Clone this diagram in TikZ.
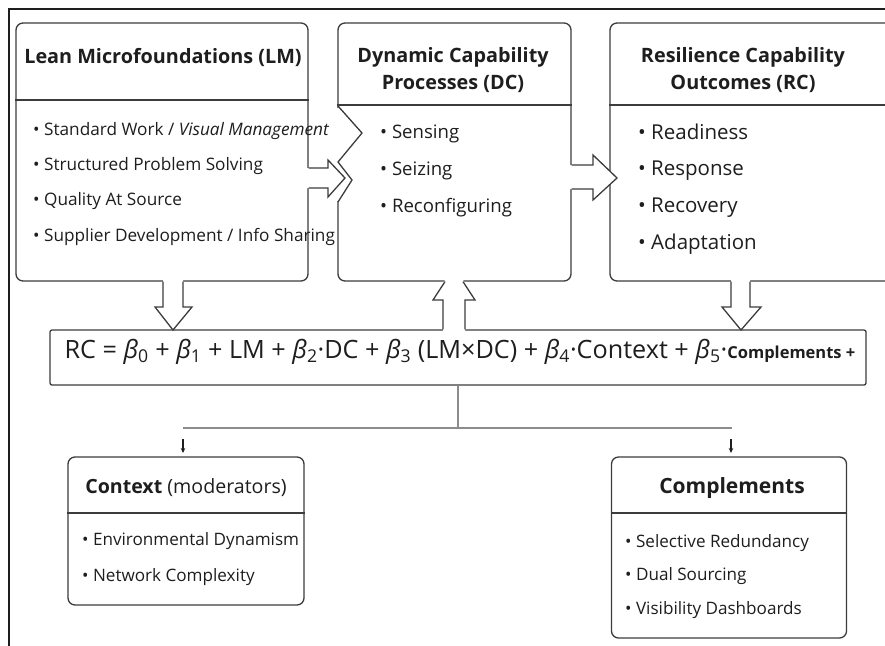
\documentclass[tikz,border=0pt]{standalone}
\usepackage{fontspec}
\setmainfont{Open Sans}
\usetikzlibrary{calc,arrows.meta}
\definecolor{ink}{HTML}{1E1E1E}
\definecolor{edge}{HTML}{3C3C3C}
\definecolor{wire}{HTML}{8C8C8C}
\begin{document}
\begin{tikzpicture}[x=1pt,y=-1pt,
  panel/.style={draw=edge, line width=1.3pt, rounded corners=7pt, fill=white, inner sep=0pt},
  divider/.style={draw=edge, line width=1.2pt},
  heading/.style={text=ink, font=\fontsize{19.8}{26.5}\selectfont\bfseries, align=center, inner sep=0pt},
  subhead/.style={text=ink, font=\fontsize{19.6}{22}\selectfont\bfseries, inner sep=0pt},
  itemL/.style={text=ink, font=\fontsize{17.2}{20}\selectfont, anchor=mid west, inner sep=0pt},
  itemM/.style={text=ink, font=\fontsize{18.6}{22}\selectfont, anchor=mid west, inner sep=0pt},
  itemR/.style={text=ink, font=\fontsize{20.5}{24}\selectfont, anchor=mid west, inner sep=0pt},
  itemS/.style={text=ink, font=\fontsize{17.1}{20}\selectfont, anchor=mid west, inner sep=0pt},
  blockarrow/.style={draw=edge, line width=1.3pt, line join=miter},
  wireline/.style={draw=wire, line width=1.3pt},
  tick/.style={draw=ink, line width=1.3pt, -{Stealth[length=5pt,width=4.5pt]}},
]
\useasboundingbox (0,0) rectangle (885,645);
\clip (0,0) rectangle (885,645);

% outer frame (left and top edges)
\draw[line width=1.6pt, draw=ink] (9,650) -- (9,9) -- (890,9);

% ---------- three upper panels ----------
\node[panel, minimum width=292pt, minimum height=258pt] (lm) at (162,152) {};
\draw[divider] (lm.west |- 0,100) -- (lm.east |- 0,100);
\node[heading] (lmT) at (163,57) {Lean Microfoundations (LM)};
\node[itemL] (lm1) at (33,133) {• Standard Work / \textit{Visual Management}};
\node[itemL] (lm2) at (33,168) {• Structured Problem Solving};
\node[itemL] (lm3) at (33,203) {• Quality At Source};
\node[itemL] (lm4) at (33,239) {• Supplier Development / Info Sharing};

\node[panel, minimum width=233pt, minimum height=258pt] (dc) at (454.5,152) {};
\draw[divider] (dc.west |- 0,105) -- (dc.east |- 0,105);
% notched entry on the left edge of the DC panel
\fill[white] (336,108) rectangle (340.5,201);
\draw[blockarrow] (338,106) -- (362,133) -- (338,162) -- (352,180) -- (338,202);
\node[heading] (dcT) at (453,70) {Dynamic Capability\\Processes (DC)};
\node[itemM] (dc1) at (380,136) {• Sensing};
\node[itemM] (dc2) at (380,173) {• Seizing};
\node[itemM] (dc3) at (380,210) {• Reconfiguring};

\node[panel, minimum width=300pt, minimum height=258pt] (rc) at (760,152) {};
\draw[divider] (rc.west |- 0,105) -- (rc.east |- 0,105);
\node[heading] (rcT) at (743,70) {Resilience Capability\\Outcomes (RC)};
\node[itemR] (rc1) at (638,137) {• Readiness};
\node[itemR] (rc2) at (638,173) {• Response};
\node[itemR] (rc3) at (638,210) {• Recovery};
\node[itemR] (rc4) at (638,247) {• Adaptation};

% ---------- equation panel ----------
\node[draw=edge, line width=1.3pt, fill=white, minimum width=816pt, minimum height=55pt,
      rounded corners=2pt, inner sep=0pt] (eq) at (458,357.5) {};
\node[text=ink, font=\fontsize{25.2}{28}\selectfont, anchor=mid, inner sep=0pt] (eqT) at (460,356)
  {RC = \textit{β}\textsubscript{0} + \textit{β}\textsubscript{1} + LM + \textit{β}\textsubscript{2}·DC
   + \textit{β}\textsubscript{3} (LM×DC) + \textit{β}\textsubscript{4}·Context
   + \textit{β}\textsubscript{5}·{\fontsize{16.5}{18}\selectfont\bfseries Complements +}};

% ---------- block arrows ----------
% LM -> DC
\fill[white] (307,168) -- (328,168) -- (328,160) -- (345,178) -- (328,197) -- (328,188) -- (307,188) -- cycle;
\draw[blockarrow] (lm.east |- 0,168) -- (328,168) -- (328,160) -- (345,178) -- (328,197) -- (328,188) -- (lm.east |- 0,188);
% DC -> RC
\fill[white] (568,165) -- (593,165) -- (593,155) -- (617,178) -- (593,200) -- (593,189) -- (568,189) -- cycle;
\draw[blockarrow] (dc.east |- 0,165) -- (593,165) -- (593,155) -- (617,178) -- (593,200) -- (593,189) -- (dc.east |- 0,189);
% LM -> equation
\fill[white] (163,278) -- (163,307) -- (155,307) -- (173,330) -- (192,307) -- (183,307) -- (183,278) -- cycle;
\draw[blockarrow] (lm.south -| 163,0) -- (163,307) -- (155,307) -- (173,330) -- (192,307) -- (183,307) -- (lm.south -| 183,0);
% RC -> equation
\fill[white] (731,278) -- (731,307) -- (722,307) -- (741,330) -- (761,307) -- (750,307) -- (750,278) -- cycle;
\draw[blockarrow] (rc.south -| 731,0) -- (731,307) -- (722,307) -- (741,330) -- (761,307) -- (750,307) -- (rc.south -| 750,0);
% equation -> DC (tip hidden inside the DC panel)
\fill[white] (443,332) -- (443,300) -- (433,300) -- (445,280) -- (463,280) -- (475,300) -- (465,300) -- (465,332) -- cycle;
\draw[blockarrow] (eq.north -| 443,0) -- (443,300) -- (433,300) -- (dc.south -| 445,0);
\draw[blockarrow] (eq.north -| 465,0) -- (465,300) -- (475,300) -- (dc.south -| 463,0);

% ---------- lower panels ----------
\node[panel, minimum width=236pt, minimum height=148pt] (ctx) at (186,531) {};
\draw[divider] (ctx.west |- 0,513) -- (ctx.east |- 0,513);
\node[subhead] (ctxT) at (186,488) {Context \mdseries(moderators)};
\node[itemS] (ctx1) at (82,543) {• Environmental Dynamism};
\node[itemS] (ctx2) at (82,579) {• Network Complexity};

\node[panel, minimum width=235pt, minimum height=181pt] (cmp) at (729,547.5) {};
\draw[divider] (cmp.west |- 0,513) -- (cmp.east |- 0,513);
\node[subhead, font=\fontsize{21}{24}\selectfont\bfseries] (cmpT) at (732,488) {Complements};
\node[itemS] (cmp1) at (625,545) {• Selective Redundancy};
\node[itemS] (cmp2) at (625,578) {• Dual Sourcing};
\node[itemS] (cmp3) at (625,612) {• Visibility Dashboards};

% ---------- distribution wires ----------
\coordinate (hub) at (458,428);
\coordinate (hubL) at (183,428);
\coordinate (hubR) at (732,428);
\draw[wireline] (eq.south -| hub) -- (hub);
\draw[wireline] (hubL) -- (hubR);
\draw[tick] (183,439) -- (183,453);
\draw[tick] (731,439) -- (731,453);
\end{tikzpicture}
\end{document}
